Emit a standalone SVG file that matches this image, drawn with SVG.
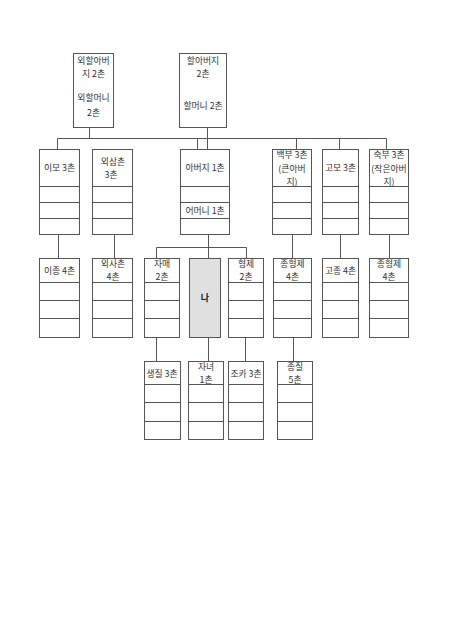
<svg xmlns="http://www.w3.org/2000/svg" width="450" height="636" viewBox="0 0 450 636">
<style>
.b{fill:#fff;stroke:#555;stroke-width:1}
.d{stroke:#555;stroke-width:1}
.me{fill:#e0e0e0;stroke:#555;stroke-width:1}
.c{stroke:#555;stroke-width:1;fill:none}
text{font-family:"Noto Sans CJK KR","Noto Sans",sans-serif;font-size:8.8px;fill:#333;text-anchor:middle}
.bold{font-weight:bold;font-size:9px;fill:#222}
</style>
<rect width="450" height="636" fill="#fff"/>
<g id="connectors">
<path class="c" d="M89.5 127V138.5M207.5 127V149M57.5 138.5H386.5M57.5 138.5V149M197.5 138.5V149M296.5 138.5V149M339.5 138.5V149M386.5 138.5V149"/>
<path class="c" d="M58.5 234V258M114.5 234V258M208.5 234V258M156.5 247.5H246.5M156.5 247.5V258M246.5 247.5V258M292.5 234V258M340.5 234V258M389.5 234V258"/>
<path class="c" d="M156.5 337V361M208.5 337V361M245.5 337V361M293.5 337V361"/>
</g>
<g id="n-oehalabeoji">
<rect class="b" x="73.5" y="53.5" width="40" height="74"/>
<text x="93.5" y="64">외할아버</text>
<text x="93.5" y="77">지 2촌</text>
<text x="93.5" y="101">외할머니</text>
<text x="93.5" y="116">2촌</text>
</g>
<g id="n-halabeoji">
<rect class="b" x="179.5" y="53.5" width="47" height="74"/>
<text x="203" y="64">할아버지</text>
<text x="203" y="77">2촌</text>
<text x="203" y="109">할머니 2촌</text>
</g>
<g id="n-imo">
<rect class="b" x="39.5" y="149.5" width="40" height="85"/>
<path class="d" d="M39.5 186.5H79.5M39.5 202.5H79.5M39.5 218.5H79.5"/>
<text x="59.5" y="171">이모 3촌</text>
</g>
<g id="n-oesamchon">
<rect class="b" x="92.5" y="149.5" width="40" height="85"/>
<path class="d" d="M92.5 186.5H132.5M92.5 202.5H132.5M92.5 218.5H132.5"/>
<text x="113" y="165">외삼촌</text>
<text x="111" y="178">3촌</text>
</g>
<g id="n-abeoji">
<rect class="b" x="180.5" y="149.5" width="49" height="85"/>
<path class="d" d="M180.5 186.5H229.5M180.5 202.5H229.5M180.5 218.5H229.5"/>
<text x="205" y="171">아버지 1촌</text>
<text x="205" y="214">어머니 1촌</text>
</g>
<g id="n-baekbu">
<rect class="b" x="272.5" y="149.5" width="39" height="85"/>
<path class="d" d="M272.5 186.5H311.5M272.5 202.5H311.5M272.5 218.5H311.5"/>
<text x="292" y="158">백부 3촌</text>
<text x="292" y="172">(큰아버</text>
<text x="292" y="185">지)</text>
</g>
<g id="n-gomo">
<rect class="b" x="322.5" y="149.5" width="36" height="85"/>
<path class="d" d="M322.5 186.5H358.5M322.5 202.5H358.5M322.5 218.5H358.5"/>
<text x="340.5" y="171">고모 3촌</text>
</g>
<g id="n-sukbu">
<rect class="b" x="369.5" y="149.5" width="39" height="85"/>
<path class="d" d="M369.5 186.5H408.5M369.5 202.5H408.5M369.5 218.5H408.5"/>
<text x="389" y="158">숙부 3촌</text>
<text x="389" y="172">(작은아버</text>
<text x="389" y="185">지)</text>
</g>
<g id="n-ijong">
<rect class="b" x="39.5" y="258.5" width="40" height="79"/>
<path class="d" d="M39.5 282.5H79.5M39.5 300.5H79.5M39.5 318.5H79.5"/>
<text x="59.5" y="274">이종 4촌</text>
</g>
<g id="n-oesachon">
<rect class="b" x="92.5" y="258.5" width="40" height="79"/>
<path class="d" d="M92.5 282.5H132.5M92.5 300.5H132.5M92.5 318.5H132.5"/>
<text x="113" y="267">외사촌</text>
<text x="113" y="280">4촌</text>
</g>
<g id="n-jamae">
<rect class="b" x="144.5" y="258.5" width="35" height="79"/>
<path class="d" d="M144.5 282.5H179.5M144.5 300.5H179.5M144.5 318.5H179.5"/>
<text x="162" y="267">자매</text>
<text x="162" y="280">2촌</text>
</g>
<g id="n-na">
<rect class="me" x="189.5" y="258.5" width="31" height="79"/>
<text class="bold" x="205" y="301">나</text>
</g>
<g id="n-hyeongje">
<rect class="b" x="228.5" y="258.5" width="35" height="79"/>
<path class="d" d="M228.5 282.5H263.5M228.5 300.5H263.5M228.5 318.5H263.5"/>
<text x="246" y="267">형제</text>
<text x="246" y="280">2촌</text>
</g>
<g id="n-jonghyeongje1">
<rect class="b" x="273.5" y="258.5" width="38" height="79"/>
<path class="d" d="M273.5 282.5H311.5M273.5 300.5H311.5M273.5 318.5H311.5"/>
<text x="292.5" y="267">종형제</text>
<text x="292.5" y="280">4촌</text>
</g>
<g id="n-gojong">
<rect class="b" x="322.5" y="258.5" width="36" height="79"/>
<path class="d" d="M322.5 282.5H358.5M322.5 300.5H358.5M322.5 318.5H358.5"/>
<text x="340.5" y="274">고종 4촌</text>
</g>
<g id="n-jonghyeongje2">
<rect class="b" x="369.5" y="258.5" width="39" height="79"/>
<path class="d" d="M369.5 282.5H408.5M369.5 300.5H408.5M369.5 318.5H408.5"/>
<text x="389" y="267">종형제</text>
<text x="389" y="280">4촌</text>
</g>
<g id="n-saengjil">
<rect class="b" x="144.5" y="361.5" width="36" height="78"/>
<path class="d" d="M144.5 384.5H180.5M144.5 402.5H180.5M144.5 421.5H180.5"/>
<text x="162" y="377">생질 3촌</text>
</g>
<g id="n-janyeo">
<rect class="b" x="188.5" y="361.5" width="35" height="78"/>
<path class="d" d="M188.5 384.5H223.5M188.5 402.5H223.5M188.5 421.5H223.5"/>
<text x="206" y="370">자녀</text>
<text x="206" y="383">1촌</text>
</g>
<g id="n-joka">
<rect class="b" x="228.5" y="361.5" width="35" height="78"/>
<path class="d" d="M228.5 384.5H263.5M228.5 402.5H263.5M228.5 421.5H263.5"/>
<text x="246" y="377">조카 3촌</text>
</g>
<g id="n-jongjil">
<rect class="b" x="277.5" y="361.5" width="35" height="78"/>
<path class="d" d="M277.5 384.5H312.5M277.5 402.5H312.5M277.5 421.5H312.5"/>
<text x="295" y="370">종질</text>
<text x="295" y="383">5촌</text>
</g>
</svg>
